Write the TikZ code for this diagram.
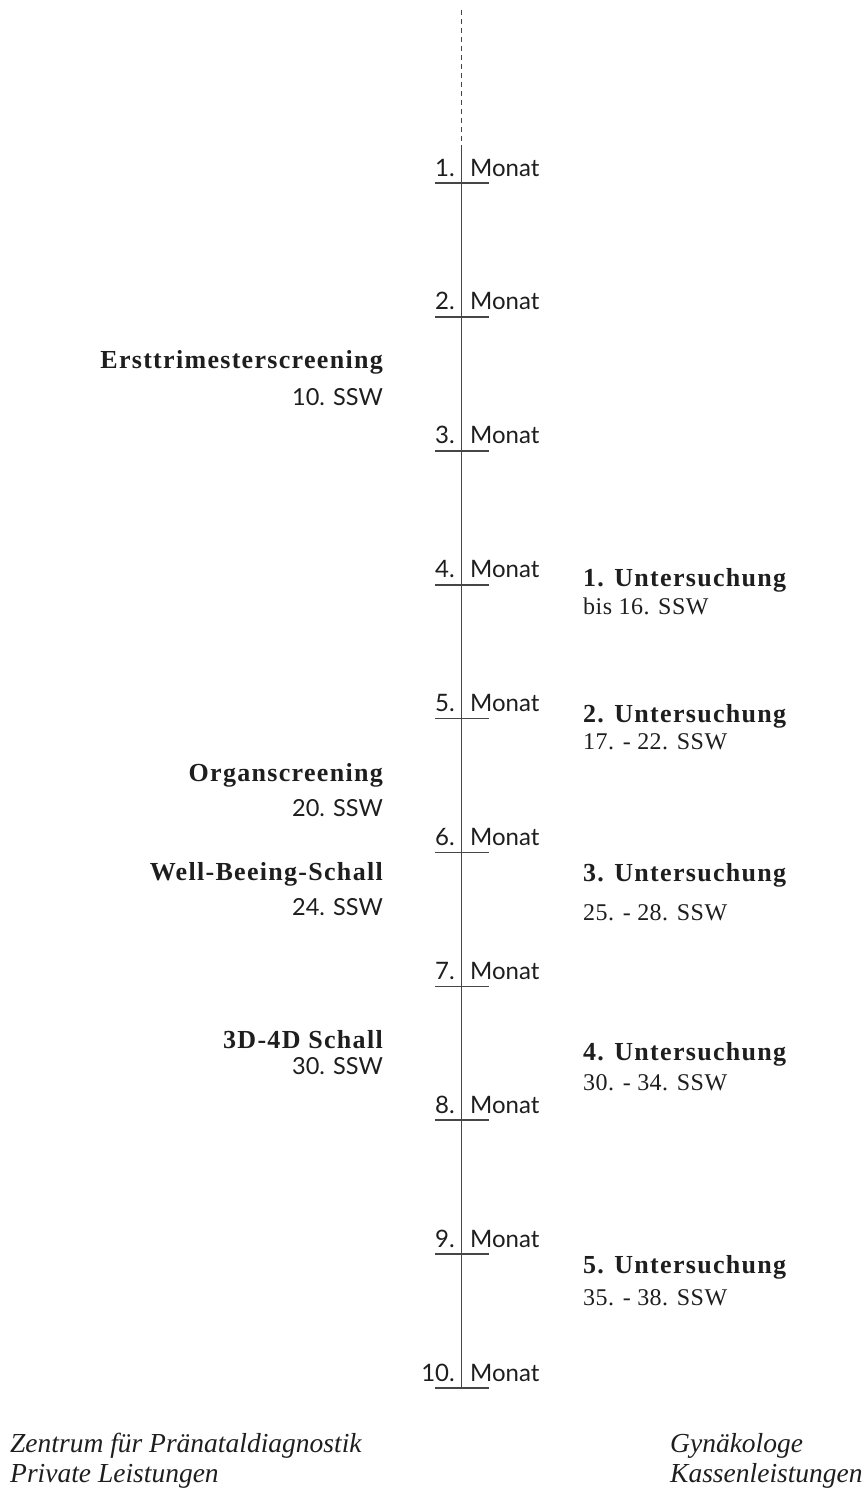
\documentclass[tikz,border=0pt]{standalone}
\usepackage{fontspec}
\setmainfont{Liberation Serif}
\newfontfamily\sansf{Lato}
\newfontfamily\serifsp[LetterSpace=5]{Liberation Serif}
\newfontfamily\serifreg[LetterSpace=2]{Liberation Serif}
\definecolor{linegray}{RGB}{70,70,70}
\definecolor{txt}{RGB}{30,30,30}
\tikzset{
  monthnum/.style={font=\sansf\fontsize{24}{27}\selectfont, text=txt, inner sep=0pt, anchor=base east},
  monthname/.style={font=\sansf\fontsize{24}{27}\selectfont, text=txt, inner sep=0pt, anchor=base west},
  headL/.style={font=\serifsp\bfseries\fontsize{26}{30}\selectfont, text=txt, inner sep=0pt, anchor=base east},
  subL/.style={font=\sansf\fontsize{23.5}{26}\selectfont, text=txt, inner sep=0pt, anchor=base east},
  headR/.style={font=\serifsp\bfseries\fontsize{26}{30}\selectfont, text=txt, inner sep=0pt, anchor=base west},
  subR/.style={font=\serifreg\fontsize{24}{28}\selectfont, text=txt, inner sep=0pt, anchor=base west},
  footer/.style={font=\itshape\fontsize{27.5}{32}\selectfont, text=txt, inner sep=0pt, anchor=base west},
  axis/.style={draw=linegray, line width=1.7pt},
  tick/.style={draw=linegray, line width=1.7pt},
}
\begin{document}
\begin{tikzpicture}[x=1pt,y=-1pt]
\useasboundingbox (0,0) rectangle (867,1489);
% axis
\coordinate (top) at (461.5,10);
\coordinate (solid) at (461.5,150);
\foreach \k in {1,...,10}{
  \pgfmathsetmacro{\ty}{183+(\k-1)*133.9}
  \coordinate (tl\k) at (435,\ty);
  \coordinate (tr\k) at (489,\ty);
  \coordinate (ax\k) at (461.5,\ty);
  \node[monthnum] (n\k) at (455,\ty-7) {\k.};
  \node[monthname] (m\k) at (470,\ty-7) {Monat};
}
\draw[axis, dash pattern=on 5pt off 4pt] (top) -- (solid);
\draw[axis] (solid) -- (ax10);
\foreach \k in {1,...,10}{ \draw[tick] (tl\k) -- (tr\k); }
% left
\node[headL] (erst) at (383,368) {Ersttrimesterscreening};
\node[subL] (erstw) at (383,405) {10. SSW};
\node[headL] (organ) at (383,781) {Organscreening};
\node[subL] (organw) at (383,816) {20. SSW};
\node[headL] (well) at (383,880) {Well-Beeing-Schall};
\node[subL] (wellw) at (383,915) {24. SSW};
\node[headL] (dd) at (383,1048) {3D-4D Schall};
\node[subL] (ddw) at (383,1074) {30. SSW};
% right
\node[headR] (u1) at (583,586) {1. Untersuchung};
\node[subR] (u1w) at (583,614) {bis 16. SSW};
\node[headR] (u2) at (583,722) {2. Untersuchung};
\node[subR] (u2w) at (583,749) {17. - 22. SSW};
\node[headR] (u3) at (583,881) {3. Untersuchung};
\node[subR] (u3w) at (583,920) {25. - 28. SSW};
\node[headR] (u4) at (583,1060) {4. Untersuchung};
\node[subR] (u4w) at (583,1090) {30. - 34. SSW};
\node[headR] (u5) at (583,1273) {5. Untersuchung};
\node[subR] (u5w) at (583,1305) {35. - 38. SSW};
% footer
\node[footer] (f1) at (10,1452) {Zentrum für Pränataldiagnostik};
\node[footer] (f2) at (10,1482) {Private Leistungen};
\node[footer] (f3) at (670,1452) {Gynäkologe};
\node[footer] (f4) at (670,1482) {Kassenleistungen};
\end{tikzpicture}
\end{document}
